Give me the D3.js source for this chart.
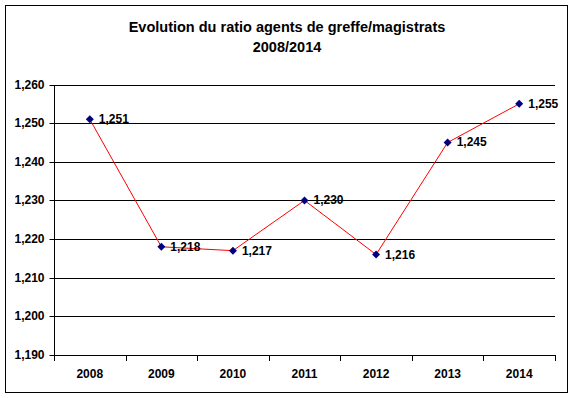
<!DOCTYPE html>
<html><head><meta charset="utf-8">
<script src="https://cdn.jsdelivr.net/npm/d3@7"></script>
<style>
html,body{margin:0;padding:0;background:#fff;}
svg{display:block;font-family:"Liberation Sans",Arial,sans-serif;}
</style></head>
<body>
<svg id="c" width="574" height="398"></svg>
<script>
const years = ["2008","2009","2010","2011","2012","2013","2014"];
const ratios = [1.251, 1.218, 1.217, 1.230, 1.216, 1.245, 1.255];
const yTicks = [1.19, 1.20, 1.21, 1.22, 1.23, 1.24, 1.25, 1.26];
const titleLines = ["Evolution du ratio agents de greffe/magistrats", "2008/2014"];

(function(){
const svg = d3.select("#c");
const fmt = v => d3.format(".3f")(v).replace(".", ",");

svg.append("rect").attr("x",5.5).attr("y",5.5).attr("width",562).attr("height",387)
  .attr("fill","#fff").attr("stroke","#000").attr("stroke-width",1);

const pL = 54, pR = 555, pT = 84.5, pB = 355;
const x = d3.scaleBand().domain(years).range([pL, pR]);
const y = d3.scaleLinear().domain([1.19, 1.26]).range([pB, pT]);

const t = svg.append("text").attr("text-anchor","middle").attr("font-weight","bold")
  .attr("font-size",14.5).attr("fill","#000");
titleLines.forEach((s,i)=> t.append("tspan").attr("x",287).attr("y",32 + i*20).text(s));

svg.append("g").selectAll("line").data(yTicks.slice(1)).join("line")
  .attr("x1",pL).attr("x2",pR)
  .attr("y1",d=>Math.round(y(d))+0.5).attr("y2",d=>Math.round(y(d))+0.5)
  .attr("stroke","#000").attr("stroke-width",1);

const yAxis = svg.append("g").attr("transform",`translate(${pL+0.5},0)`)
  .call(d3.axisLeft(y).tickValues(yTicks).tickFormat(fmt).tickSize(5).tickPadding(5));
yAxis.selectAll("path,line").attr("stroke","#000");
yAxis.selectAll(".tick").attr("transform", d=>`translate(0,${Math.round(y(d))+0.5})`);
yAxis.selectAll("text").attr("font-size",12).attr("font-weight","bold").attr("font-family","Liberation Sans, Arial, sans-serif").attr("fill","#000");
yAxis.select(".domain").attr("d",`M0,${Math.round(y(1.19))+0.5}V${Math.round(y(1.26))+0.5}`);

const xAxis = svg.append("g").attr("transform",`translate(0,${Math.round(y(1.19))+0.5})`)
  .call(d3.axisBottom(x).tickSize(0).tickPadding(14));
xAxis.select(".domain").attr("d",`M${pL},0H${pR}`).attr("stroke","#000");
xAxis.selectAll("text").attr("font-size",12).attr("font-weight","bold").attr("font-family","Liberation Sans, Arial, sans-serif").attr("fill","#000");
svg.append("g").selectAll("line").data(years.concat(["end"])).join("line")
  .attr("x1",(d,i)=>Math.round(pL + i*x.step())+0.5).attr("x2",(d,i)=>Math.round(pL + i*x.step())+0.5)
  .attr("y1",Math.round(y(1.19))).attr("y2",Math.round(y(1.19))+6)
  .attr("stroke","#000");

const cx = d => x(d) + x.bandwidth()/2;
svg.append("path").datum(ratios)
  .attr("d", d3.line().x((d,i)=>cx(years[i])).y(d=>y(d)))
  .attr("fill","none").attr("stroke","#ff0000").attr("stroke-width",1);

svg.append("g").selectAll("path").data(ratios).join("path")
  .attr("transform",(d,i)=>`translate(${cx(years[i])},${y(d)})`)
  .attr("d","M0,-4L4,0L0,4L-4,0Z").attr("fill","#000080");

svg.append("g").selectAll("text").data(ratios).join("text")
  .attr("x",(d,i)=>cx(years[i])+9).attr("y",d=>y(d)+4)
  .attr("font-size",12).attr("font-weight","bold").attr("fill","#000")
  .text(fmt);
})();
</script>
</body></html>
